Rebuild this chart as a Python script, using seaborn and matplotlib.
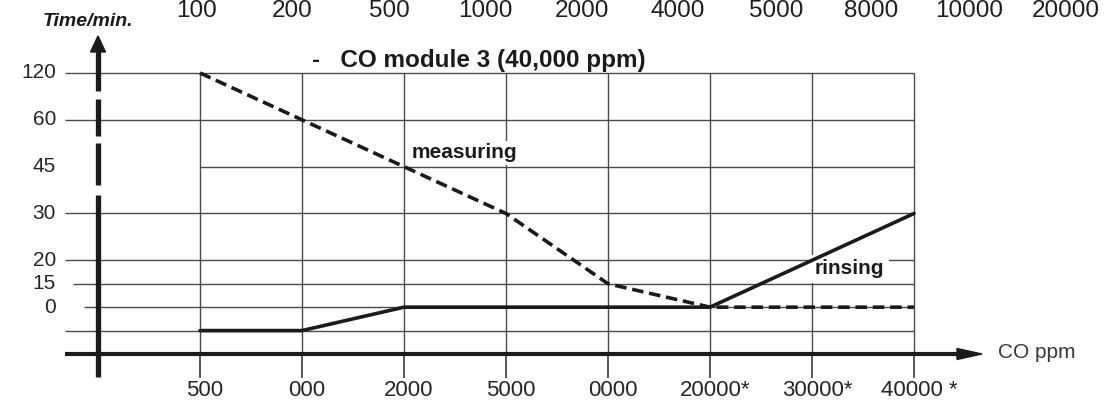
import numpy as np
import pandas as pd
import seaborn as sns
import matplotlib.pyplot as plt

# values
conc_labels = ['500', '000', '2000', '5000', '0000', '20000*', '30000*', '40000 *']
top_labels = ['100', '200', '500', '1000', '2000', '4000', '5000', '8000', '10000', '20000']
time_labels = ['120', '60', '45', '30', '20', '15', '0']
time_rows = [12, 10, 8, 6, 4, 3, 2]          # row of each time label on the drawing
measuring_rows = [12, 10, 8, 6, 3, 2, 2, 2]
rinsing_rows = [1, 1, 2, 2, 2, 2, 4, 6]

sns.set_style("white")
plt.rcParams['font.family'] = ['Liberation Sans', 'DejaVu Sans']

W, H = 1109, 403
ink = '#1b1b1b'
grid_c = '#4a4a4a'


def px(x):  # pixel column -> data x (one step = 102 px, first step at 200)
    return (x - 200) / 102


def py(y):  # pixel row -> data row (one row = 23.417 px, row 0 at 354)
    return (354 - y) / 23.417


fig = plt.figure(figsize=(W / 100, H / 100), dpi=100)
ax = fig.add_axes([0, 0, 1, 1])
ax.axis('off')

steps = np.arange(len(conc_labels))
df = pd.DataFrame({'step': steps, 'measuring': measuring_rows, 'rinsing': rinsing_rows})

# grid
grid_rows = [12, 10, 8, 6, 4, 3, 2, 1]
grid_start = [65, 65, 200, 65, 65, 73, 84, 65]
for r, s in zip(grid_rows, grid_start):
    ax.hlines(r, px(s), steps[-1], color=grid_c, lw=1.0, zorder=1)
ax.vlines(steps, 0, 12, color=grid_c, lw=1.0, zorder=1)
ax.vlines(steps, py(378), 0, color=grid_c, lw=1.3, zorder=1)

# axes with arrows
for y0, y1 in [(51, 91), (99, 136), (143, 185), (195, 377)]:
    ax.plot([px(98), px(98)], [py(y0), py(y1)], color=ink, lw=3.8, solid_capstyle='butt', zorder=3)
ax.fill([px(90.5), px(105.5), px(98)], [py(52), py(52), py(36)], color=ink, zorder=3)
ax.plot([px(65), px(960)], [0, 0], color=ink, lw=3.0, solid_capstyle='butt', zorder=3)
ax.fill([px(957), px(957), px(982)], [py(348.5), py(359.5), 0], color=ink, zorder=3)

# data lines
sns.lineplot(data=df, x='step', y='measuring', ax=ax, color=ink, lw=2.6,
             linestyle=(0, (3.2, 1.6)), estimator=None, zorder=4)
sns.lineplot(data=df, x='step', y='rinsing', ax=ax, color=ink, lw=2.6,
             estimator=None, zorder=4)
ax.set_xlim(px(0), px(W))
ax.set_ylim(py(H), py(0))
ax.axis('off')

# labels
for lab, r in zip(time_labels, time_rows):
    ax.text(px(56), r, lab, ha='right', va='center', fontsize=15, color='#262626')
for lab, s in zip(conc_labels, steps):
    ax.text(s + 0.05, py(391), lab, ha='center', va='center', fontsize=16, color='#262626')

top_x = [197, 292, 389, 485, 582, 678, 776, 871, 969, 1066]
for lab, x in zip(top_labels, top_x):
    ax.text(px(x), py(11), lab, ha='center', va='center', fontsize=17.5, color='#1e1e1e')

ax.text(px(43), py(22), 'Time/min.', ha='left', va='center', fontsize=14,
        fontweight='bold', fontstyle='italic', color=ink)
ax.text(px(312), py(61), '-   CO module 3 (40,000 ppm)', ha='left', va='center',
        fontsize=17.5, fontweight='bold', color=ink)
ax.text(px(412), py(153), 'measuring', ha='left', va='center', fontsize=15,
        fontweight='bold', color=ink, zorder=2,
        bbox=dict(facecolor='white', edgecolor='none', pad=2))
ax.text(px(815), py(269), 'rinsing', ha='left', va='center', fontsize=15,
        fontweight='bold', color=ink, zorder=2,
        bbox=dict(facecolor='white', edgecolor='none', pad=3))
ax.text(px(998), py(353), 'CO ppm', ha='left', va='center', fontsize=15, color='#3a3a3a')

fig.savefig('out.png', dpi=100)
